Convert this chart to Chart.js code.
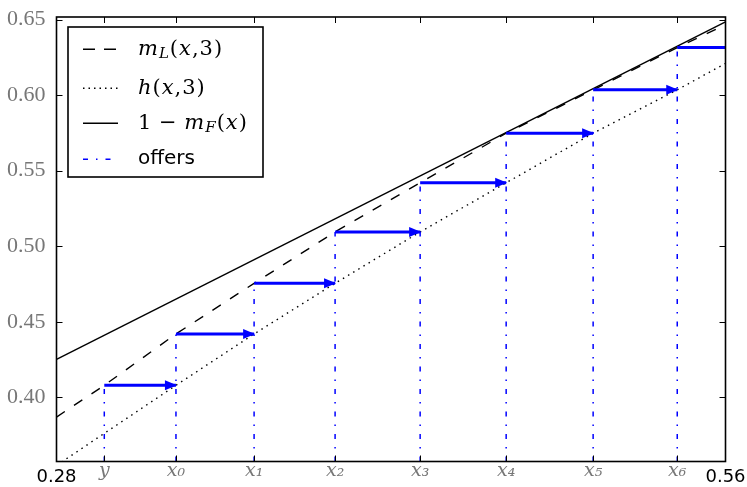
<!DOCTYPE html>
<html>
<head>
<meta charset="utf-8">
<script src="https://cdn.jsdelivr.net/npm/chart.js@4.4.1/dist/chart.umd.min.js"></script>
<style>
    html, body { margin: 0; padding: 0; background: #fff; }
    #wrap { width: 747px; height: 487px; }
</style>
</head>
<body>
<div id="wrap"><canvas id="chart"></canvas></div>
<script>
// ===============================
// DATA
// ===============================

// offer steps: y, x0 ... x6 and the level each arrow is drawn at
const offerX = [0.300, 0.330, 0.3627, 0.3966, 0.4322, 0.4682, 0.5046, 0.5398];
const offerLevel = [0.408, 0.442, 0.4755, 0.5095, 0.542, 0.5748, 0.6035, 0.6315];
const offerLabels = ["y", "x₀", "x₁", "x₂", "x₃", "x₄", "x₅", "x₆"];

// m_L(x,3) - dashed
const mLX = [0.28, 0.300, 0.330, 0.3627, 0.3966, 0.4322, 0.4682, 0.5046, 0.5398, 0.56];
const mLY = [0.387, 0.408, 0.442, 0.4755, 0.5095, 0.542, 0.5748, 0.6035, 0.6315, 0.6465];

// h(x,3) - dotted
const hX = [0.28, 0.330, 0.3627, 0.3966, 0.4322, 0.4682, 0.5046, 0.5398, 0.56];
const hY = [0.355, 0.408, 0.442, 0.4755, 0.5095, 0.542, 0.5748, 0.6035, 0.621];

// 1 - m_F(x) - solid
const mFX = [0.28, 0.56];
const mFY = [0.4252, 0.6485];

const yTicks = [0.40, 0.45, 0.50, 0.55, 0.60, 0.65];
const xEndLabels = ["0.28", "0.56"];

const xMin = 0.28, xMax = 0.56;
const yMin = 0.3576, yMax = 0.6517;

const BLUE = "#0000ff";

function pts(xs, ys) {
    return xs.map(function (v, i) { return { x: v, y: ys[i] }; });
}

// vertical dash-dot lines, one segment per offer
const verticalData = [];
offerX.forEach(function (v, i) {
    verticalData.push({ x: v, y: yMin }, { x: v, y: offerLevel[i] }, { x: v, y: null });
});

// horizontal arrows from one offer to the next (last one runs off the plot)
const arrowData = [];
offerX.forEach(function (v, i) {
    const end = i + 1 < offerX.length ? offerX[i + 1] : xMax;
    arrowData.push({ x: v, y: offerLevel[i] }, { x: end, y: offerLevel[i] }, { x: end, y: null });
});

const allXTicks = [xMin].concat(offerX, [xMax]);
const allXLabels = [xEndLabels[0]].concat(offerLabels, [xEndLabels[1]]);

// legend rows
const legendRows = [
    { dash: [12, 9], color: "#000", width: 1.4, parts: [
        { t: "m", it: 1 }, { t: "L", it: 1, sub: 1 }, { t: "(" }, { t: "x", it: 1 }, { t: "," }, { t: "3" }, { t: ")" }] },
    { dash: [1.5, 4], color: "#000", width: 1.4, parts: [
        { t: "h", it: 1 }, { t: "(" }, { t: "x", it: 1 }, { t: "," }, { t: "3" }, { t: ")" }] },
    { dash: [], color: "#000", width: 1.4, parts: [
        { t: "1" }, { t: " − " }, { t: "m", it: 1 }, { t: "F", it: 1, sub: 1 }, { t: "(" }, { t: "x", it: 1 }, { t: ")" }] },
    { dash: [5, 8, 1.5, 8], color: BLUE, width: 1.5, sans: "offers" }
];

// ===============================
// PLUGIN: arrow heads, frame, ticks, legend
// ===============================

const framePlugin = {
    id: "frame",
    afterDatasetsDraw: function (chart) {
        const ctx = chart.ctx;
        const a = chart.chartArea;
        const xs = chart.scales.x;
        const ys = chart.scales.y;

        // arrow heads at the end of every arrow
        const meta = chart.getDatasetMeta(0);
        ctx.save();
        ctx.beginPath();
        ctx.rect(a.left, a.top, a.right - a.left, a.bottom - a.top);
        ctx.clip();
        ctx.fillStyle = BLUE;
        for (let i = 1; i < meta.data.length; i += 3) {
            if (arrowData[i].x >= xMax) continue;
            const p = meta.data[i];
            ctx.beginPath();
            ctx.moveTo(p.x + 1, p.y);
            ctx.lineTo(p.x - 11, p.y - 5);
            ctx.lineTo(p.x - 11, p.y + 5);
            ctx.closePath();
            ctx.fill();
        }
        ctx.restore();

        // inward ticks on all four sides
        ctx.save();
        ctx.strokeStyle = "#000";
        ctx.lineWidth = 1;
        ctx.beginPath();
        xs.ticks.forEach(function (t) {
            if (t.value <= xMin || t.value >= xMax) return;
            const px = Math.round(xs.getPixelForValue(t.value)) + 0.5;
            ctx.moveTo(px, a.bottom); ctx.lineTo(px, a.bottom - 6);
            ctx.moveTo(px, a.top); ctx.lineTo(px, a.top + 6);
        });
        ys.ticks.forEach(function (t) {
            const py = Math.round(ys.getPixelForValue(t.value)) + 0.5;
            ctx.moveTo(a.left, py); ctx.lineTo(a.left + 6, py);
            ctx.moveTo(a.right, py); ctx.lineTo(a.right - 6, py);
        });
        ctx.stroke();
        ctx.lineWidth = 1.6;
        ctx.strokeRect(a.left, a.top, a.right - a.left, a.bottom - a.top);
        ctx.restore();
    },
    afterDraw: function (chart) {
        const ctx = chart.ctx;
        const bx = 68, by = 27, bw = 195, bh = 150;
        const rowY = [49.3, 88.3, 123.3, 159.3];

        ctx.save();
        ctx.fillStyle = "#fff";
        ctx.fillRect(bx, by, bw, bh);
        ctx.strokeStyle = "#000";
        ctx.lineWidth = 1.6;
        ctx.strokeRect(bx, by, bw, bh);

        legendRows.forEach(function (row, i) {
            const y = rowY[i];
            ctx.beginPath();
            ctx.setLineDash(row.dash);
            ctx.strokeStyle = row.color;
            ctx.lineWidth = row.width;
            ctx.moveTo(83, y);
            ctx.lineTo(118, y);
            ctx.stroke();
            ctx.setLineDash([]);

            ctx.fillStyle = "#000";
            ctx.textBaseline = "middle";
            ctx.textAlign = "left";
            let x = 138;
            if (row.sans) {
                ctx.font = "20px 'DejaVu Sans'";
                ctx.fillText(row.sans, x, y - 1);
                return;
            }
            row.parts.forEach(function (p) {
                const size = p.sub ? 15 : 21;
                ctx.font = (p.it ? "italic " : "") + size + "px 'DejaVu Serif'";
                ctx.fillText(p.t, x, y + (p.sub ? 5 : 0));
                x += ctx.measureText(p.t).width + 1;
            });
        });
        ctx.restore();
    }
};

// ===============================
// CHART
// ===============================

new Chart(document.getElementById("chart"), {
    type: "scatter",
    data: {
        datasets: [
            {
                label: "arrows",
                data: arrowData,
                showLine: true,
                spanGaps: false,
                borderColor: BLUE,
                borderWidth: 3,
                pointRadius: 0,
                order: 0
            },
            {
                label: "offers",
                data: verticalData,
                showLine: true,
                spanGaps: false,
                borderColor: BLUE,
                borderWidth: 1.5,
                borderDash: [5, 8, 1.5, 8],
                pointRadius: 0,
                order: 1
            },
            {
                label: "1 - m_F(x)",
                data: pts(mFX, mFY),
                showLine: true,
                borderColor: "#000",
                borderWidth: 1.4,
                pointRadius: 0,
                order: 2
            },
            {
                label: "h(x,3)",
                data: pts(hX, hY),
                showLine: true,
                borderColor: "#000",
                borderWidth: 1.4,
                borderDash: [1.5, 4.5],
                pointRadius: 0,
                order: 3
            },
            {
                label: "m_L(x,3)",
                data: pts(mLX, mLY),
                showLine: true,
                borderColor: "#000",
                borderWidth: 1.4,
                borderDash: [10, 11],
                pointRadius: 0,
                order: 4
            }
        ]
    },
    options: {
        responsive: true,
        maintainAspectRatio: false,
        animation: false,
        layout: {
            padding: { top: 17, right: 21.5, left: 0, bottom: 0 }
        },
        plugins: {
            legend: { display: false },
            tooltip: { enabled: false }
        },
        scales: {
            x: {
                type: "linear",
                min: xMin,
                max: xMax,
                grid: { display: false, drawTicks: false },
                border: { display: false },
                afterBuildTicks: function (scale) {
                    scale.ticks = allXTicks.map(function (v) { return { value: v }; });
                },
                afterFit: function (scale) {
                    scale.height = 25.5;
                    scale.paddingLeft = 0;
                    scale.paddingRight = 0;
                },
                ticks: {
                    autoSkip: false,
                    maxRotation: 0,
                    padding: 5,
                    callback: function (value, index) {
                        return allXLabels[index];
                    },
                    color: function (c) {
                        return (c.index === 0 || c.index === allXTicks.length - 1) ? "#000" : "#777";
                    },
                    font: function (c) {
                        if (c.index === 0 || c.index === allXTicks.length - 1) {
                            return { family: "DejaVu Sans", size: 18, lineHeight: 1.2 };
                        }
                        return { family: "DejaVu Serif", style: "italic", size: 19, lineHeight: 0.5 };
                    }
                }
            },
            y: {
                type: "linear",
                min: yMin,
                max: yMax,
                grid: { display: false, drawTicks: false },
                border: { display: false },
                afterBuildTicks: function (scale) {
                    scale.ticks = yTicks.map(function (v) { return { value: v }; });
                },
                afterFit: function (scale) {
                    scale.width = 56.5;
                    scale.paddingTop = 0;
                    scale.paddingBottom = 0;
                },
                ticks: {
                    padding: 11,
                    color: "#777",
                    font: { family: "Liberation Serif", size: 22 },
                    callback: function (value) {
                        return value.toFixed(2);
                    }
                }
            }
        }
    },
    plugins: [framePlugin]
});
</script>
</body>
</html>
